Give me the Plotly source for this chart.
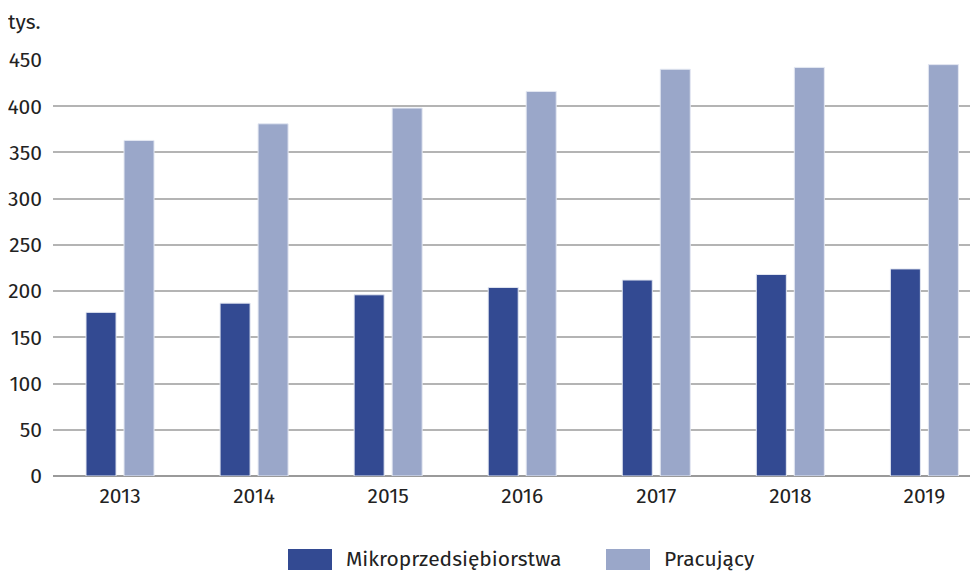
import plotly.graph_objects as go

# Data
years = ["2013", "2014", "2015", "2016", "2017", "2018", "2019"]
mikro = [177, 187, 196, 204, 212, 218, 224]
pracujacy = [363, 381, 398, 416, 440, 442, 445]
y_ticks = [0, 50, 100, 150, 200, 250, 300, 350, 400, 450]
series_names = ["Mikroprzedsiębiorstwa", "Pracujący"]

DARK = "#334a92"
LIGHT = "#9aa7c9"
FONT_FAMILY = "Fira Sans, Noto Sans, sans-serif"
TEXT_COLOR = "#222222"
FONT_SIZE = 21

# page has an 8px body margin, so the figure is 970 x 564
W, H = 970, 564
L, T, B = 45, 52, 96
PW, PH = W - L, H - T - B


def px_x(p):
    return (p - L) / PW


def px_y(p):
    return (H - B - p) / PH


fig = go.Figure()
for name, vals, col in zip(series_names, [mikro, pracujacy], [DARK, LIGHT]):
    fig.add_trace(
        go.Bar(
            x=years,
            y=vals,
            name=name,
            marker=dict(color=col, line=dict(color="#e4e8f2", width=1)),
        )
    )

# Legend drawn by hand so the swatches are large, like the original
legend_items = [(series_names[0], DARK, 280), (series_names[1], LIGHT, 598)]
shapes, annotations = [], []
for name, col, p0 in legend_items:
    shapes.append(
        dict(
            type="rect",
            xref="paper",
            yref="paper",
            x0=px_x(p0),
            x1=px_x(p0 + 44),
            y0=px_y(562),
            y1=px_y(541),
            fillcolor=col,
            line=dict(width=0),
        )
    )
    annotations.append(
        dict(
            text=name,
            x=px_x(p0 + 56),
            y=px_y(551),
            xref="paper",
            yref="paper",
            xanchor="left",
            yanchor="middle",
            showarrow=False,
            font=dict(size=FONT_SIZE),
        )
    )

annotations.append(
    dict(
        text="tys.",
        x=px_x(-2),
        y=px_y(14),
        xref="paper",
        yref="paper",
        xanchor="left",
        yanchor="middle",
        showarrow=False,
        font=dict(size=FONT_SIZE),
    )
)

fig.update_layout(
    width=W,
    height=H,
    margin=dict(l=L, r=0, t=T, b=B),
    paper_bgcolor="white",
    plot_bgcolor="white",
    barmode="group",
    bargap=0.433,
    bargroupgap=0.21,
    font=dict(family=FONT_FAMILY, size=FONT_SIZE, color=TEXT_COLOR),
    showlegend=False,
    shapes=shapes,
    annotations=annotations,
)

fig.update_xaxes(
    range=[-0.5, 6.4],
    showgrid=False,
    showline=False,
    ticks="",
    automargin=False,
    ticklabelstandoff=5,
    tickfont=dict(size=FONT_SIZE),
)
fig.update_yaxes(
    range=[0, 450],
    tickvals=y_ticks,
    showgrid=True,
    gridcolor="#b4b4b4",
    gridwidth=1.5,
    zeroline=True,
    zerolinecolor="#9a9a9a",
    zerolinewidth=1.5,
    ticks="",
    ticklabelstandoff=10,
    automargin=False,
    tickfont=dict(size=FONT_SIZE),
)

fig.write_html("out.html")
